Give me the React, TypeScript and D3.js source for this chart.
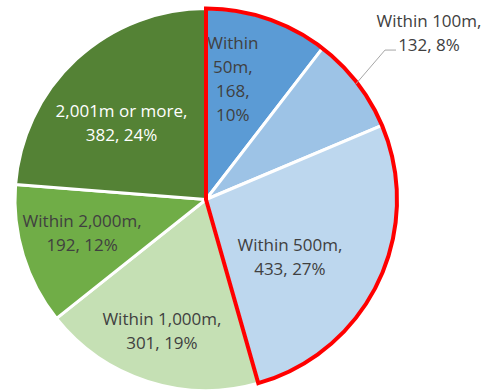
import React from "react";
import * as d3 from "d3";

const categories = ["Within 50m", "Within 100m", "Within 500m", "Within 1,000m", "Within 2,000m", "2,001m or more"];
const values = [168, 132, 433, 301, 192, 382];
const percents = ["10%", "8%", "27%", "19%", "12%", "24%"];
const colors = ["#5B9BD5", "#9DC3E6", "#BDD7EE", "#C5E0B4", "#70AD47", "#548235"];
const textColors = ["#404040", "#404040", "#404040", "#404040", "#404040", "#FFFFFF"];
// label lines per slice
const labelLines = [
  ["Within", "50m,", "168,", "10%"],
  ["Within 100m,", "132, 8%"],
  ["Within 500m,", "433, 27%"],
  ["Within 1,000m,", "301, 19%"],
  ["Within 2,000m,", "192, 12%"],
  ["2,001m or more,", "382, 24%"],
];
// label anchor: [angle deg clockwise from top, radius fraction]
const labelAnchor: [number, number][] = [
  [12.5, 0.65],
  [53.1, 1.46],
  [124, 0.53],
  [198.7, 0.72],
  [255.5, 0.67],
  [312.5, 0.6],
];
const highlighted = [0, 1, 2];

const W = 491, H = 391;
const cx = 206, cy = 199.5, R = 191;
const lineH = 24;

export default function App() {
  const pie = d3.pie<number>().sort(null).value((d) => d)(values);
  const arc = d3.arc<d3.PieArcDatum<number>>().innerRadius(0).outerRadius(R);
  const start = pie[highlighted[0]].startAngle;
  const end = pie[highlighted[highlighted.length - 1]].endAngle;
  const redPath = d3.arc()({ innerRadius: 0, outerRadius: R, startAngle: start, endAngle: end } as any) as string;

  const toXY = (deg: number, rf: number) => {
    const a = (deg * Math.PI) / 180;
    return [Math.sin(a) * R * rf, -Math.cos(a) * R * rf];
  };

  // leader line for slice 1 (outside label)
  const mid1 = (pie[1].startAngle + pie[1].endAngle) / 2;
  const p0 = [Math.sin(mid1) * R * 0.99, -Math.cos(mid1) * R * 0.99];
  const [lx, ly] = toXY(labelAnchor[1][0], labelAnchor[1][1]);

  return (
    <svg width={W} height={H} style={{ position: "absolute", left: 0, top: 0, background: "#fff" }}>
      <g transform={`translate(${cx},${cy})`}>
        {pie.map((p, i) => (
          <path key={i} d={arc(p) as string} fill={colors[i]} stroke="#fff" strokeWidth={3} strokeLinejoin="round" />
        ))}
        <path d={redPath} fill="none" stroke="#FF0000" strokeWidth={4} strokeLinejoin="miter" />
        <polyline
          points={`${p0[0]},${p0[1]} ${lx - 44},${ly + 18} ${lx - 33},${ly + 18}`}
          fill="none"
          stroke="#A6A6A6"
          strokeWidth={1}
        />
        {labelLines.map((lines, i) => {
          const [x, y] = toXY(labelAnchor[i][0], labelAnchor[i][1]);
          const y0 = y - ((lines.length - 1) * lineH) / 2;
          return (
            <text
              key={i}
              x={x}
              y={y0}
              textAnchor="middle"
              dominantBaseline="central"
              fill={textColors[i]}
              style={{ fontFamily: "'Open Sans', sans-serif", fontSize: 17 }}
            >
              {lines.map((l, j) => (
                <tspan key={j} x={x} y={y0 + j * lineH}>
                  {l}
                </tspan>
              ))}
            </text>
          );
        })}
      </g>
    </svg>
  );
}
